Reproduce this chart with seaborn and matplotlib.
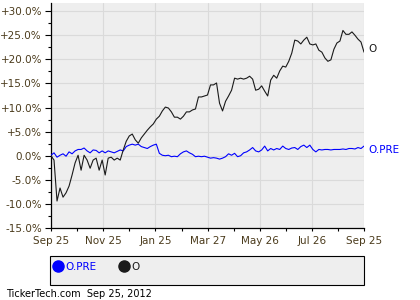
import numpy as np
import pandas as pd
import matplotlib
matplotlib.use("Agg")
import matplotlib.pyplot as plt
from matplotlib.lines import Line2D
from matplotlib.patches import Rectangle
from matplotlib.ticker import FixedLocator, FuncFormatter
import seaborn as sns

# ---------------- data (percent change since Sep 25, 2011) ----------------
start_date = "2011-09-25"
end_date = "2012-09-25"

o_values = [
    0.0, -0.9, -9.4, -6.7, -8.6, -7.7, -6.3, -4.0, -1.5, 0.1,
    -3.0, 0.1, -0.9, -2.6, -0.9, -0.5, -3.0, -0.9, -4.0, -0.5,
    -0.3, -0.9, -0.5, -0.9, 1.2, 3.0, 4.1, 4.5, 3.3, 2.6,
    3.7, 4.5, 5.3, 6.0, 6.6, 7.6, 8.2, 9.3, 10.1, 9.9,
    9.1, 8.0, 8.0, 7.6, 8.2, 9.1, 9.1, 9.5, 9.7, 12.2,
    12.2, 12.4, 12.6, 14.7, 14.7, 15.1, 10.9, 9.3, 11.3, 12.4,
    13.6, 16.1, 15.9, 16.1, 15.9, 16.1, 16.5, 15.9, 13.6, 13.8,
    14.5, 13.4, 12.4, 15.7, 16.7, 16.1, 17.6, 18.6, 18.4, 19.6,
    21.3, 24.0, 23.8, 23.2, 24.0, 24.6, 23.2, 23.0, 23.2, 21.9,
    21.5, 20.3, 19.6, 19.9, 22.1, 23.4, 23.8, 26.0, 25.2, 25.2,
    25.7, 25.0, 24.2, 23.6, 21.5,
]

opre_values = [
    0.1, 0.6, -0.3, 0.1, 0.4, -0.1, 0.8, 0.4, 1.0, 1.3,
    1.3, 1.6, 1.0, 0.6, 1.2, 1.1, 0.6, 1.0, 0.6, 1.0,
    0.8, 0.6, 0.9, 1.2, 1.0, 1.9, 2.2, 2.4, 2.2, 2.4,
    1.9, 1.7, 1.5, 1.9, 2.2, 2.4, 0.5, 0.1, 0.0, 0.1,
    -0.2, -0.1, -0.2, 0.4, 0.8, 1.0, 0.6, 0.3, -0.2, -0.1,
    -0.2, -0.1, -0.3, -0.5, -0.4, -0.5, -0.7, -0.5, -0.2, 0.4,
    0.1, 0.5, -0.2, 0.0, 0.6, 0.8, 1.2, 1.7, 1.0, 0.8,
    1.2, 2.0, 1.0, 1.5, 1.2, 1.5, 1.3, 2.0, 1.5, 1.3,
    1.6, 1.7, 1.3, 1.9, 2.2, 1.7, 2.2, 1.3, 0.8, 1.3,
    1.2, 1.3, 1.3, 1.2, 1.3, 1.3, 1.3, 1.4, 1.3, 1.5,
    1.5, 1.4, 1.7, 1.5, 2.0,
]

series_names = ["O.PRE", "O"]
series_colors = ["#0000ff", "#1a1a1a"]

x_tick_dates = ["2011-09-25", "2011-11-25", "2012-01-25", "2012-03-27",
                "2012-05-26", "2012-07-26", "2012-09-25"]
x_tick_labels = ["Sep 25", "Nov 25", "Jan 25", "Mar 27", "May 26", "Jul 26", "Sep 25"]
y_ticks = [-15, -10, -5, 0, 5, 10, 15, 20, 25, 30]
footer_text = "TickerTech.com  Sep 25, 2012"

# ---------------- build table ----------------
dates = pd.date_range(start_date, end_date, periods=len(o_values))
df = pd.concat([
    pd.DataFrame({"date": dates, "pct": opre_values, "symbol": series_names[0]}),
    pd.DataFrame({"date": dates, "pct": o_values, "symbol": series_names[1]}),
], ignore_index=True)

# ---------------- style ----------------
sns.set_style("ticks")
plt.rcParams["font.family"] = ["DejaVu Sans"]
label_color = "#4b3b1c"
bg = "#eeeeee"
grid_color = "#dadada"

fig = plt.figure(figsize=(4.2, 3.0), dpi=100)
fig.patch.set_facecolor("white")
ax = fig.add_axes([51 / 420, 1 - 228 / 300, (364 - 51) / 420, (228 - 3) / 300])
ax.set_facecolor(bg)

palette = dict(zip(series_names, series_colors))
sns.lineplot(data=df, x="date", y="pct", hue="symbol", palette=palette,
             linewidth=0.8, legend=False, ax=ax, zorder=3)

# axes limits
x0, x1 = pd.Timestamp(start_date), pd.Timestamp(end_date)
ax.set_xlim(x0, x1)
ax.set_ylim(-15, 31.7)

# y ticks
ax.set_yticks(y_ticks)
ax.yaxis.set_minor_locator(FixedLocator([v + 2.5 for v in y_ticks]))
ax.yaxis.set_major_formatter(FuncFormatter(
    lambda v, p: ("+%.1f%%" % v) if v > 0 else ("%.1f%%" % v)))

# x ticks
tick_ts = pd.to_datetime(x_tick_dates)
ax.set_xticks(tick_ts)
ax.set_xticklabels(x_tick_labels)
mids = [tick_ts[i] + (tick_ts[i + 1] - tick_ts[i]) / 2 for i in range(len(tick_ts) - 1)]
ax.set_xticks(mids, minor=True)

ax.set_xlabel("")
ax.set_ylabel("")

ax.tick_params(axis="y", which="major", length=4, width=0.8, pad=2.5,
               labelsize=7.5, labelcolor=label_color, color="black")
ax.tick_params(axis="y", which="minor", length=2, width=0.8, color="black")
ax.tick_params(axis="x", which="both", length=2, width=0.8, pad=4,
               labelsize=7.5, labelcolor=label_color, color="black")

ax.grid(True, which="major", color=grid_color, linewidth=0.8, zorder=0)
ax.set_axisbelow(True)
for s in ["top", "right"]:
    ax.spines[s].set_visible(False)
for s in ["left", "bottom"]:
    ax.spines[s].set_color("black")
    ax.spines[s].set_linewidth(0.9)

# end labels
ax.annotate(series_names[1], xy=(dates[-1], o_values[-1]), xytext=(3, 2),
            textcoords="offset points", va="center", ha="left",
            fontsize=7.5, color="#1a1a1a", annotation_clip=False)
ax.annotate(series_names[0], xy=(dates[-1], opre_values[-1]), xytext=(3, -2.5),
            textcoords="offset points", va="center", ha="left",
            fontsize=7.5, color="#0000ff", annotation_clip=False)

# legend box
fig.patches.append(Rectangle((50 / 420, 1 - 285 / 300), (364 - 50) / 420, 29 / 300,
                             transform=fig.transFigure, facecolor=bg,
                             edgecolor="black", linewidth=0.8, zorder=1))
handles = [Line2D([], [], marker="o", linestyle="", markersize=8,
                  markerfacecolor=c, markeredgecolor=c) for c in series_colors]
leg = fig.legend(handles, series_names, loc="center left",
                 bbox_to_anchor=(53 / 420, 1 - 267 / 300), ncol=2, frameon=False,
                 fontsize=7.5, labelcolor=series_colors, handletextpad=0.15,
                 columnspacing=2.2, handlelength=1.0, borderaxespad=0, borderpad=0)
leg.set_zorder(5)

fig.text(6 / 420, 1 - 294 / 300, footer_text, fontsize=7, color="black",
         ha="left", va="center")

fig.savefig("out.png", dpi=100)
